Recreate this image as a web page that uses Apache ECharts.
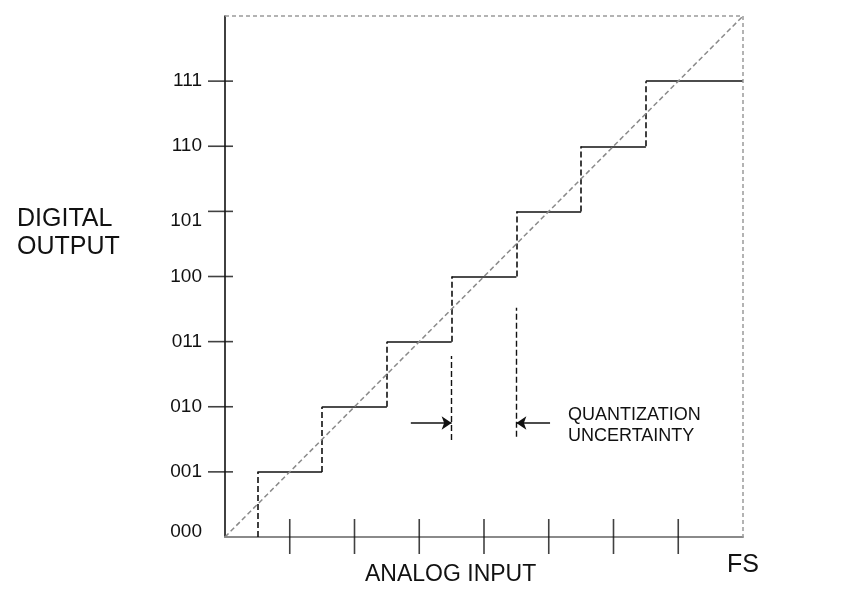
<!DOCTYPE html>
<html>
<head>
<meta charset="utf-8">
<script src="https://cdn.jsdelivr.net/npm/echarts@6/dist/echarts.min.js"></script>
<style>html,body{margin:0;padding:0;background:#fff;}#c{width:845px;height:591px;}</style>
</head>
<body>
<div id="c"></div>
<script>
// ---- data ----
const codes = ['000', '001', '010', '011', '100', '101', '110', '111'];
const fullScale = 8;
const fsLabel = 'FS';
const transitions = [0.5, 1.5, 2.5, 3.5, 4.5, 5.5, 6.5]; // analog input where output code steps up
const xTickValues = [1, 2, 3, 4, 5, 6, 7];
const yTickValues = [1, 2, 3, 4, 5, 6, 7];
// quantization uncertainty annotation: dashed guides [x, yFrom, yTo]
const guideLines = [[3.5, 1.49, 2.78], [4.5, 1.54, 3.52]];
// arrows [xFrom, xTo, y]
const arrows = [[2.87, 3.5, 1.75], [5.02, 4.5, 1.75]];

// build segments from the data
const horizontals = transitions.map((t, i) => ({
  coords: [[t, i + 1], [i + 1 < transitions.length ? transitions[i + 1] : fullScale, i + 1]]
}));
const risers = transitions.map((t, i) => ({ coords: [[t, i], [t, i + 1]] }));
const guides = guideLines.map(g => ({ coords: [[g[0], g[1]], [g[0], g[2]]] }));
const arrowData = arrows.map(a => ({ coords: [[a[0], a[2]], [a[1], a[2]]] }));

const chart = echarts.init(document.getElementById('c'), null, { renderer: 'canvas' });
const FONT = '"Liberation Sans", Arial, Helvetica, sans-serif';

chart.setOption({
  animation: false,
  backgroundColor: '#ffffff',
  grid: { left: 225, right: 102, top: 16, bottom: 54, containLabel: false },
  xAxis: {
    type: 'value', min: 0, max: fullScale, interval: 1,
    axisLine: { show: true, lineStyle: { color: '#8a8a8a', width: 2 } },
    axisTick: { show: false },
    splitLine: { show: false },
    axisLabel: {
      show: true, margin: 16, color: '#111', fontSize: 25, fontFamily: FONT,
      formatter: v => (v === fullScale ? fsLabel : ''),
      showMaxLabel: true
    }
  },
  yAxis: {
    type: 'value', min: 0, max: fullScale, interval: 1,
    axisLine: { show: true, lineStyle: { color: '#111', width: 1.6 } },
    axisTick: { show: false },
    splitLine: { show: false },
    axisLabel: {
      show: true, margin: 23, color: '#111', fontSize: 19, fontFamily: FONT,
      formatter: v => {
        const c = codes[v];
        if (c === undefined) return '';
        if (v === 0) return '{up|' + c + '}';
        if (v === 5) return '{down|' + c + '}';
        return c;
      },
      rich: {
        up: { fontSize: 19, fontFamily: FONT, color: '#111', padding: [0, 0, 10, 0] },
        down: { fontSize: 19, fontFamily: FONT, color: '#111', padding: [18, 0, 0, 0] }
      }
    }
  },
  series: [
    { // top / right dashed frame
      type: 'line', silent: true, symbol: 'none', clip: false,
      data: [[0, fullScale], [fullScale, fullScale], [fullScale, 0]],
      lineStyle: { color: '#9a9a9a', width: 1.5, type: [4, 3] }
    },
    { // ideal transfer diagonal
      type: 'line', silent: true, symbol: 'none', clip: false,
      data: [[0, 0], [fullScale, fullScale]],
      lineStyle: { color: '#8a8a8a', width: 1.5, type: [5, 3] }
    },
    { // code plateaus
      type: 'lines', coordinateSystem: 'cartesian2d', silent: true, clip: false,
      data: horizontals,
      lineStyle: { color: '#111', width: 1.6, type: 'solid', opacity: 1 }
    },
    { // risers
      type: 'lines', coordinateSystem: 'cartesian2d', silent: true, clip: false,
      data: risers,
      lineStyle: { color: '#111', width: 1.6, type: [6, 3], opacity: 1 }
    },
    { // uncertainty guides
      type: 'lines', coordinateSystem: 'cartesian2d', silent: true, clip: false,
      data: guides,
      lineStyle: { color: '#111', width: 1.4, type: [6, 3], opacity: 1 }
    },
    { // arrows
      type: 'lines', coordinateSystem: 'cartesian2d', silent: true, clip: false,
      data: arrowData, symbol: ['none', 'arrow'], symbolSize: 10,
      lineStyle: { color: '#111', width: 1.6, type: 'solid', opacity: 1 }
    },
    { // x ticks crossing the axis
      type: 'scatter', silent: true, clip: false,
      data: xTickValues.map(v => [v, 0]),
      symbol: 'rect', symbolSize: [1.6, 35], symbolOffset: [0, -0.5],
      itemStyle: { color: '#111' }
    },
    { // y ticks crossing the axis
      type: 'scatter', silent: true, clip: false,
      data: yTickValues.map(v => [0, v]),
      symbol: 'rect', symbolSize: [25, 1.6], symbolOffset: [-4.5, 0],
      itemStyle: { color: '#111' }
    }
  ],
  graphic: [
    { type: 'text', left: 17, top: 205,
      style: { text: 'DIGITAL\nOUTPUT', font: '25px ' + FONT, fill: '#111', lineHeight: 28 } },
    { type: 'text', left: 568, top: 405,
      style: { text: 'QUANTIZATION\nUNCERTAINTY', font: '18px ' + FONT, fill: '#111', lineHeight: 21 } },
    { type: 'text', left: 365, top: 563,
      style: { text: 'ANALOG INPUT', font: '23px ' + FONT, fill: '#111' } }
  ]
});
</script>
</body>
</html>
